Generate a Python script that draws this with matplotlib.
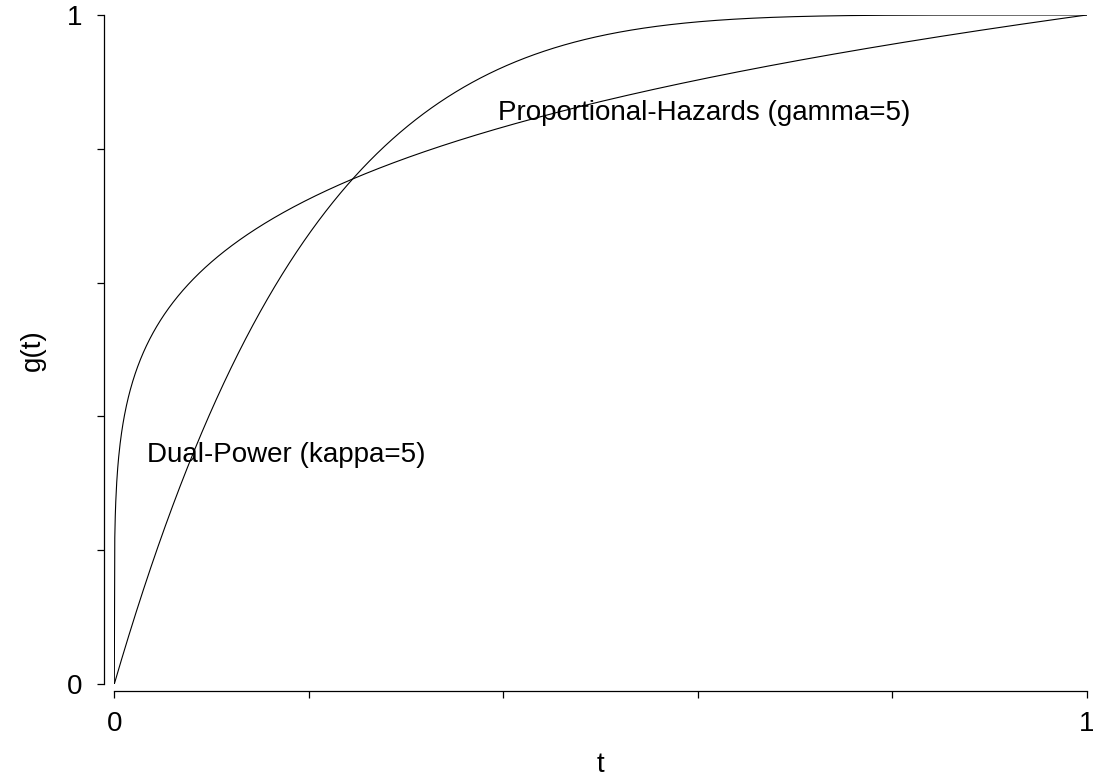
import numpy as np
import matplotlib
matplotlib.use("Agg")
import matplotlib.pyplot as plt

plt.rcParams["font.family"] = ["Liberation Sans", "DejaVu Sans"]

# Distortion-function parameters
kappa = 5   # dual-power
gamma = 5   # proportional hazards

# Axis ticks and labels
x_ticks = [0.0, 0.2, 0.4, 0.6, 0.8, 1.0]
x_tick_labels = ["0", "", "", "", "", "1"]
y_ticks = [0.0, 0.2, 0.4, 0.6, 0.8, 1.0]
y_tick_labels = ["0", "", "", "", "", "1"]

# Curve annotations (label, t, g)
labels = ["Dual-Power (kappa=5)", "Proportional-Hazards (gamma=5)"]
label_t = [0.177, 0.607]
label_g = [0.343, 0.854]

t = np.linspace(0.0, 1.0, 2001)
g_dual_power = 1.0 - (1.0 - t) ** kappa
g_prop_hazards = t ** (1.0 / gamma)

W, H = 1093, 778
fig = plt.figure(figsize=(W / 100, H / 100), dpi=100)
ax = fig.add_axes([114.3 / W, (H - 684) / H, (1086.7 - 114.3) / W, (684 - 15) / H])

ax.plot(t, g_dual_power, color="black", lw=0.8)
ax.plot(t, g_prop_hazards, color="black", lw=0.8)

for txt, tx, gy in zip(labels, label_t, label_g):
    ax.text(tx, gy, txt, ha="center", va="center", fontsize=20)

ax.set_xlim(0, 1)
ax.set_ylim(0, 1)

for side in ["top", "right"]:
    ax.spines[side].set_visible(False)
ax.spines["left"].set_position(("outward", 7.3))
ax.spines["bottom"].set_position(("outward", 5.2))
ax.spines["left"].set_bounds(0, 1)
ax.spines["bottom"].set_bounds(0, 1)
for side in ["left", "bottom"]:
    ax.spines[side].set_linewidth(0.9)

ax.set_xticks(x_ticks)
ax.set_xticklabels(x_tick_labels)
ax.set_yticks(y_ticks)
ax.set_yticklabels(y_tick_labels)
ax.tick_params(axis="both", direction="out", length=5, width=0.9, labelsize=20)
ax.tick_params(axis="x", pad=9)
ax.tick_params(axis="y", pad=11)

ax.set_xlabel("t", fontsize=20)
ax.set_ylabel("g(t)", fontsize=20)
# place axis titles in figure pixels
ax.xaxis.set_label_coords(600 / W, 1 - 765 / H, transform=fig.transFigure)
ax.yaxis.set_label_coords(33 / W, 1 - 350 / H, transform=fig.transFigure)
ax.xaxis.label.set_va("center")
ax.yaxis.label.set_va("center")

fig.savefig("out.png", dpi=100, facecolor="white")
